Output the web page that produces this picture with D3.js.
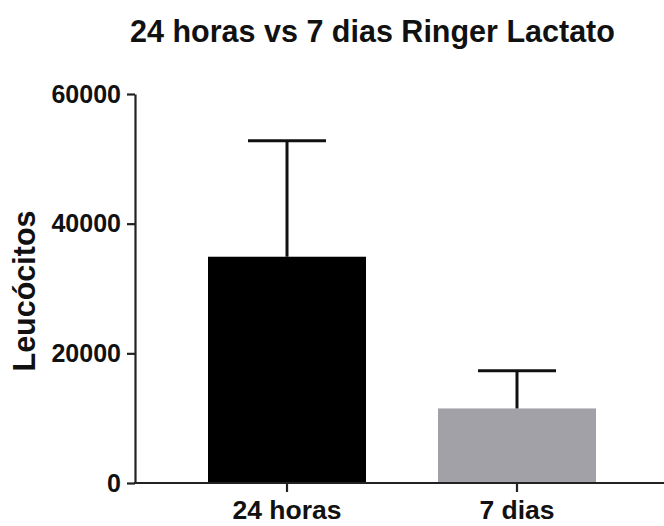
<!DOCTYPE html>
<html>
<head>
<meta charset="utf-8">
<script src="https://cdn.jsdelivr.net/npm/d3@7"></script>
<style>
  html, body { margin: 0; padding: 0; background: #fff; }
  svg { display: block; }
  text { font-family: "Liberation Sans", Arial, sans-serif; font-weight: bold; fill: #111; }
</style>
</head>
<body>
<svg id="chart" width="664" height="526"></svg>
<script>
// Leukocyte counts: mean and standard deviation per group
const categories = ["24 horas", "7 dias"];
const means = [34900, 11500];
const sds = [17900, 5800];
const barColors = ["#000000", "#a2a1a7"];
const yTicks = [0, 20000, 40000, 60000];

const title = "24 horas vs 7 dias Ringer Lactato";
const yLabel = "Leucócitos";

const svg = d3.select("#chart");
const W = 664, H = 526;
const axisX = 135, axisY = 483, topY = 94;

const x = d3.scaleBand()
  .domain(categories)
  .range([140, 664])
  .paddingInner(0.313)
  .paddingOuter(0.2957);

const y = d3.scaleLinear()
  .domain([0, 60000])
  .range([axisY, topY]);

// Bars
svg.append("g").selectAll("rect")
  .data(categories)
  .join("rect")
  .attr("x", d => x(d))
  .attr("y", (d, i) => y(means[i]))
  .attr("width", x.bandwidth())
  .attr("height", (d, i) => y(0) - y(means[i]))
  .attr("fill", (d, i) => barColors[i]);

// Upper error bars
const capHalf = 39;
const eb = svg.append("g").attr("stroke", "#111").attr("stroke-width", 3);
categories.forEach((c, i) => {
  const cx = x(c) + x.bandwidth() / 2;
  eb.append("line")
    .attr("x1", cx).attr("x2", cx)
    .attr("y1", y(means[i])).attr("y2", y(means[i] + sds[i]));
  eb.append("line")
    .attr("x1", cx - capHalf).attr("x2", cx + capHalf)
    .attr("y1", y(means[i] + sds[i])).attr("y2", y(means[i] + sds[i]));
});

// Y axis
const yAxis = svg.append("g")
  .attr("transform", `translate(${axisX},0)`)
  .call(d3.axisLeft(y).tickValues(yTicks).tickFormat(d3.format("d")).tickSize(8).tickSizeOuter(0).tickPadding(6));
yAxis.select(".domain").attr("stroke", "#222").attr("stroke-width", 2.2);
yAxis.selectAll(".tick line").attr("stroke", "#222").attr("stroke-width", 2.2);
yAxis.selectAll(".tick text")
  .attr("font-size", 25)
  .attr("font-family", "Liberation Sans, Arial, sans-serif")
  .attr("font-weight", "bold")
  .attr("fill", "#111");

// X axis
const xAxis = svg.append("g")
  .attr("transform", `translate(0,${axisY})`)
  .call(d3.axisBottom(x).tickSize(9).tickSizeOuter(0).tickPadding(8));
xAxis.select(".domain")
  .attr("d", `M${axisX - 1},0H${W}`)
  .attr("stroke", "#222").attr("stroke-width", 2.2);
xAxis.selectAll(".tick line").attr("stroke", "#222").attr("stroke-width", 2.2);
xAxis.selectAll(".tick text")
  .attr("font-size", 26.5)
  .attr("font-family", "Liberation Sans, Arial, sans-serif")
  .attr("font-weight", "bold")
  .attr("fill", "#111");

// Title
svg.append("text")
  .attr("x", 372.5)
  .attr("y", 42)
  .attr("text-anchor", "middle")
  .attr("font-size", 30.5)
  .text(title);

// Y-axis label
svg.append("text")
  .attr("transform", `translate(35,291) rotate(-90)`)
  .attr("text-anchor", "middle")
  .attr("font-size", 30.5)
  .text(yLabel);
</script>
</body>
</html>
